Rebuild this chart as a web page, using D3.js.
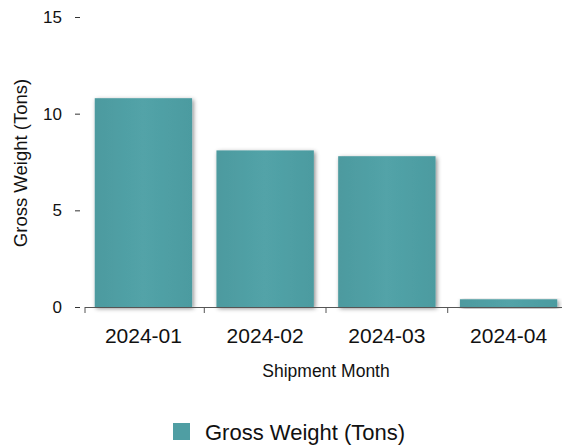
<!DOCTYPE html>
<html>
<head>
    <meta charset="utf-8">
    <script src="https://d3js.org/d3.v7.min.js"></script>
    <style>
        body { margin: 0; background: #fff; }
        text { font-family: "Liberation Sans", Arial, sans-serif; fill: #111; }
    </style>
</head>
<body>
<script>

    var months = ['2024-01', '2024-02', '2024-03', '2024-04'];
    var grossWeight = [10.8, 8.1, 7.8, 0.4];
    var yTicks = [0, 5, 10, 15];
    var seriesName = 'Gross Weight (Tons)';

    var width = 562;
    var height = 448;
    var plotLeft = 85, plotRight = 567, plotTop = 17, plotBottom = 307;

    var svg = d3.select('body').append('svg')
        .attr('width', width)
        .attr('height', height);

    var defs = svg.append('defs');
    var shadow = defs.append('filter')
        .attr('id', 'shadow')
        .attr('x', '-10%').attr('y', '-10%')
        .attr('width', '130%').attr('height', '130%');
    shadow.append('feDropShadow')
        .attr('dx', 1.5).attr('dy', 1.5)
        .attr('stdDeviation', 2)
        .attr('flood-color', '#000')
        .attr('flood-opacity', 0.45);

    var grad = defs.append('linearGradient')
        .attr('id', 'barFill')
        .attr('x1', 0).attr('x2', 1).attr('y1', 0).attr('y2', 0);
    grad.append('stop').attr('offset', '0%').attr('stop-color', '#4d9a9f');
    grad.append('stop').attr('offset', '50%').attr('stop-color', '#52a3a8');
    grad.append('stop').attr('offset', '100%').attr('stop-color', '#4c9ba0');

    var xScale = d3.scaleBand()
        .domain(months)
        .range([plotLeft, plotRight])
        .paddingInner(0.2)
        .paddingOuter(0.08);

    var yScale = d3.scaleLinear()
        .domain([0, 15])
        .range([plotBottom, plotTop]);

    // bars
    svg.append('g').selectAll('rect')
        .data(grossWeight)
        .enter().append('rect')
        .attr('x', function(d, i) { return xScale(months[i]); })
        .attr('y', function(d) { return yScale(d); })
        .attr('width', xScale.bandwidth())
        .attr('height', function(d) { return plotBottom - yScale(d); })
        .attr('fill', 'url(#barFill)')
        .attr('filter', 'url(#shadow)');

    // y axis: ticks only, no line
    var gY = svg.append('g')
        .attr('transform', 'translate(80,0)')
        .call(d3.axisLeft(yScale).tickValues(yTicks).tickSize(5).tickPadding(13));
    gY.select('.domain').remove();
    gY.selectAll('.tick line').attr('stroke', '#333');
    gY.selectAll('.tick text').style('font-size', '17px').attr('fill', '#111');

    // x axis
    var gX = svg.append('g')
        .attr('transform', 'translate(0,' + plotBottom + ')');
    gX.append('line')
        .attr('x1', plotLeft).attr('x2', width)
        .attr('y1', 0.5).attr('y2', 0.5)
        .attr('stroke', '#555');
    var bounds = [plotLeft].concat(months.slice(1).map(function(m) {
        return xScale(m) - xScale.step() * xScale.paddingInner() / 2;
    }));
    gX.selectAll('.sep')
        .data(bounds)
        .enter().append('line')
        .attr('x1', function(d) { return d; })
        .attr('x2', function(d) { return d; })
        .attr('y1', 0).attr('y2', 6)
        .attr('stroke', '#555');
    gX.selectAll('.lbl')
        .data(months)
        .enter().append('text')
        .attr('x', function(d) { return xScale(d) + xScale.bandwidth() / 2; })
        .attr('y', 36)
        .attr('text-anchor', 'middle')
        .style('font-size', '21px')
        .text(function(d) { return d; });

    // axis titles
    svg.append('text')
        .attr('x', 326).attr('y', 377)
        .attr('text-anchor', 'middle')
        .style('font-size', '17.5px')
        .text('Shipment Month');

    svg.append('text')
        .attr('transform', 'translate(27,163) rotate(-90)')
        .attr('text-anchor', 'middle')
        .style('font-size', '18.5px')
        .text('Gross Weight (Tons)');

    // legend
    var legend = svg.append('g').attr('transform', 'translate(173,423)');
    legend.append('rect')
        .attr('width', 17).attr('height', 17)
        .attr('fill', '#4f9ea3');
    legend.append('text')
        .attr('x', 32).attr('y', 17)
        .style('font-size', '22px')
        .text(seriesName);

</script>
</body>
</html>
